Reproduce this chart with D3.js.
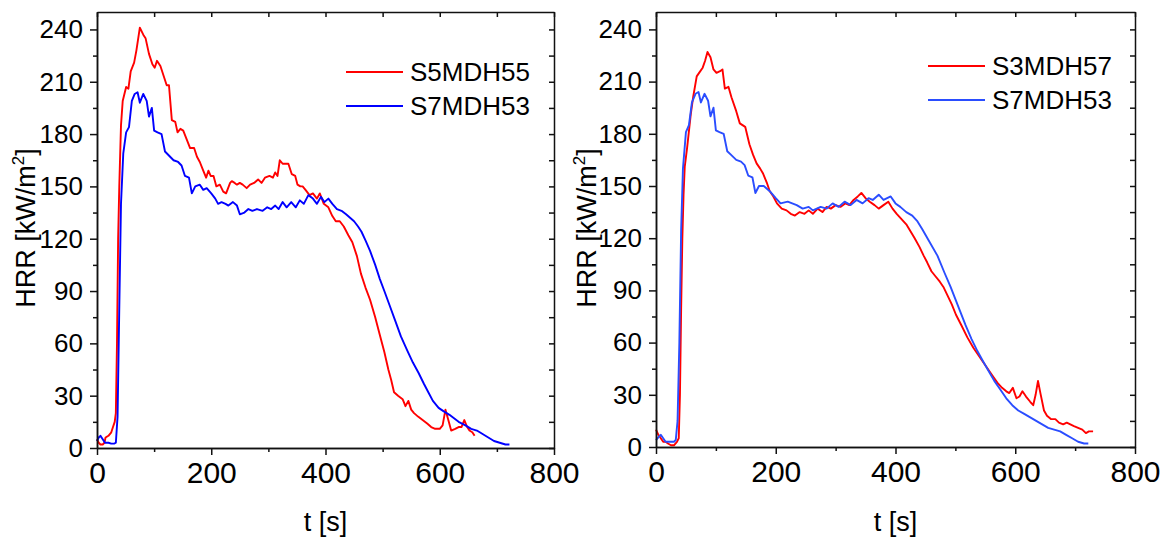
<!DOCTYPE html>
<html>
<head>
<meta charset="utf-8">
<script src="https://cdn.jsdelivr.net/npm/d3@7"></script>
<style>
  body { margin: 0; background: #fff; }
  svg { display: block; font-family: "Liberation Sans", Arial, sans-serif; }
</style>
</head>
<body>
<svg id="chart" width="1171" height="540"></svg>
<script>
// tick labels
const xTicks = [0, 200, 400, 600, 800];
const xMinor = [100, 300, 500, 700];
const yTicks = [0, 30, 60, 90, 120, 150, 180, 210, 240];
const yMinor = [15, 45, 75, 105, 135, 165, 195, 225];

// left panel, S5MDH55 (red)
const tS5 = [0, 3, 6, 10, 13, 15, 20, 25, 28, 31, 33, 35, 37, 39, 42, 45, 51, 55, 59, 65, 69, 75, 81, 85, 91, 97, 101, 105, 111, 117, 122, 126, 131, 137, 141, 146, 151, 157, 163, 170, 175, 180, 186, 191, 195, 199, 204, 209, 215, 221, 226, 233, 236, 241, 245, 250, 255, 262, 268, 275, 282, 288, 294, 302, 308, 312, 316, 320, 325, 331, 335, 341, 347, 351, 356, 360, 365, 372, 378, 385, 390, 397, 405, 412, 418, 425, 432, 440, 447, 455, 462, 470, 478, 487, 495, 503, 510, 515, 520, 527, 535, 540, 545, 550, 555, 562, 570, 578, 585, 592, 600, 605, 610, 615, 620, 627, 633, 638, 643, 648, 652, 657, 661];
const vS5 = [5, 3, 2, 2, 3, 6, 7, 9, 12, 15, 20, 60, 120, 150, 185, 199, 207, 206, 216, 221, 228, 241, 237, 235, 226, 220, 218, 222, 219, 213, 208, 208, 188, 187, 181, 183, 182, 177, 172, 172, 167, 164, 159, 155, 159, 156, 156, 150, 151, 147, 146, 152, 153, 152, 151, 152, 151, 149, 151, 152, 154, 152, 155, 156, 155, 158, 156, 165, 163, 163, 163, 157, 156, 151, 150, 150, 148, 145, 146, 143, 146, 140, 138, 133, 130, 130, 127, 122, 118, 110, 100, 92, 85, 75, 65, 55, 45, 39, 32, 30, 28, 24, 27, 22, 20, 18, 16, 14, 12, 11, 11, 13, 22, 16, 10, 11, 12, 12, 16, 12, 10, 9, 7];

// left panel, S7MDH53 (blue)
const tS7a = [0, 3, 6, 10, 14, 20, 25, 30, 33, 36, 39, 42, 46, 51, 56, 61, 66, 71, 75, 81, 87, 91, 96, 100, 106, 113, 119, 125, 134, 142, 148, 154, 161, 166, 172, 180, 186, 192, 200, 207, 212, 218, 225, 230, 238, 245, 250, 258, 265, 272, 280, 290, 298, 305, 312, 318, 325, 332, 340, 348, 355, 362, 370, 378, 385, 392, 398, 405, 412, 420, 428, 436, 443, 450, 457, 463, 470, 478, 487, 495, 503, 512, 522, 532, 543, 553, 563, 572, 580, 588, 598, 607, 617, 625, 633, 645, 655, 665, 675, 685, 695, 705, 715, 722];
const vS7a = [4, 6, 7, 5, 3, 3, 2.5, 2.5, 3, 18, 80, 140, 169, 181, 184, 199, 203, 204, 198, 203, 199, 190, 195, 182, 181, 180, 170, 168, 165, 164, 162, 156, 155, 146, 150, 151, 148, 149, 146, 143, 140, 141, 140, 139, 141, 139, 134, 135, 137, 136, 137, 136, 138, 137, 139, 137, 141, 138, 141, 138, 142, 140, 145, 143, 140, 144, 141, 143, 140, 137, 136, 134, 132, 130, 127, 124, 119, 113, 105, 97, 90, 82, 73, 64, 56, 49, 43, 37, 32, 27, 23, 21, 19, 17, 15, 13, 11, 10, 8, 6, 4, 3, 2, 2];

// right panel, S3MDH57 (red)
const tS3 = [0, 4, 8, 12, 16, 20, 25, 30, 35, 38, 40, 42, 44, 46, 48, 52, 58, 62, 68, 72, 78, 82, 86, 91, 96, 101, 107, 111, 115, 121, 126, 134, 140, 149, 156, 162, 168, 174, 179, 185, 190, 196, 202, 210, 218, 225, 232, 240, 248, 255, 262, 270, 278, 285, 292, 300, 308, 316, 323, 330, 337, 343, 350, 357, 365, 372, 380, 388, 395, 402, 410, 418, 425, 432, 440, 447, 453, 460, 467, 474, 480, 487, 494, 501, 510, 520, 530, 540, 550, 560, 570, 578, 585, 590, 596, 602, 607, 612, 618, 625, 630, 634, 638, 642, 648, 653, 660, 667, 673, 680, 686, 692, 698, 705, 712, 718, 723, 730];
const vS3 = [10, 7, 5, 3, 3, 2, 1, 1, 3, 5, 30, 80, 120, 145, 161, 172, 191, 201, 213, 215, 218, 222, 227, 224, 217, 215, 216, 217, 206, 207, 201, 193, 186, 184, 174, 168, 163, 160, 157, 152, 147, 144, 140, 137, 136, 134, 133, 135, 134, 136, 134, 137, 135, 138, 137, 139, 138, 140, 139, 142, 144, 146, 143, 141, 139, 137, 139, 141, 137, 134, 131, 128, 124, 120, 115, 110, 106, 101, 98, 95, 92, 87, 82, 76, 70, 63, 57, 52, 47, 42, 37, 34, 32, 31, 34, 28, 29, 32, 29, 26, 24, 30, 38, 31, 21, 18, 16, 16, 14, 13, 14, 13, 12, 11, 10, 8, 9, 9];

// right panel, S7MDH53 (blue)
const tS7b = [0, 5, 8, 12, 16, 20, 25, 30, 33, 36, 39, 42, 45, 50, 55, 60, 66, 71, 75, 81, 87, 91, 96, 100, 106, 113, 119, 125, 134, 142, 148, 154, 161, 166, 172, 180, 190, 200, 208, 220, 235, 245, 255, 262, 275, 285, 295, 305, 315, 325, 335, 345, 355, 362, 372, 380, 392, 400, 408, 418, 428, 436, 445, 455, 470, 482, 492, 500, 508, 517, 527, 537, 545, 555, 565, 575, 585, 595, 605, 615, 625, 635, 645, 655, 665, 675, 685, 695, 705, 715, 722];
const vS7b = [4, 6, 7, 5, 3, 3, 3, 3, 4, 15, 60, 125, 160, 181, 185, 198, 203, 204, 198, 203, 199, 190, 195, 182, 181, 180, 170, 168, 165, 164, 162, 156, 155, 146, 150, 150, 147, 143, 140, 141, 139, 137, 138, 136, 138, 137, 140, 138, 141, 139, 142, 140, 143, 142, 145, 142, 144, 140, 138, 135, 133, 130, 125, 119, 110, 100, 92, 85, 78, 70, 62, 55, 50, 44, 38, 33, 28, 24, 21, 19, 17, 15, 13, 11, 10, 9, 7, 5, 3, 2, 2];

const panels = [
  { x0: 97, x1: 554, y0: 448, y1: 12, yLab: 35,
    series: [
      { name: "S5MDH55", t: tS5, v: vS5, color: "#ff0000" },
      { name: "S7MDH53", t: tS7a, v: vS7a, color: "#0000ff" }
    ],
    legX: 346, legY: 72 },
  { x0: 656, x1: 1135, y0: 447, y1: 12, yLab: 596,
    series: [
      { name: "S3MDH57", t: tS3, v: vS3, color: "#ff0000" },
      { name: "S7MDH53", t: tS7b, v: vS7b, color: "#2a4dff" }
    ],
    legX: 928, legY: 66 }
];

const svg = d3.select("#chart");

panels.forEach(p => {
  const x = d3.scaleLinear().domain([0, 800]).range([p.x0, p.x1]);
  const y = d3.scaleLinear().domain([0, 250]).range([p.y0, p.y1]);
  const g = svg.append("g");

  // lines
  const line = d3.line().x(d => x(d[0])).y(d => y(d[1]));
  p.series.forEach(s => {
    g.append("path")
      .datum(s.t.map((t, i) => [t, s.v[i]]))
      .attr("fill", "none")
      .attr("stroke", s.color)
      .attr("stroke-width", 1.9)
      .attr("stroke-linejoin", "round")
      .attr("d", line);
  });

  // axes
  const styleAxis = sel => {
    sel.selectAll("path, line").attr("stroke", "#111").attr("stroke-width", 1.5);
    sel.selectAll("text").attr("fill", "#000").attr("font-family", "Liberation Sans, Arial, sans-serif");
  };

  g.append("g").attr("transform", `translate(0,${p.y0})`)
    .call(d3.axisBottom(x).tickValues(xMinor).tickSize(4).tickSizeOuter(0).tickFormat(""))
    .call(styleAxis);
  g.append("g").attr("transform", `translate(0,${p.y0})`)
    .call(d3.axisBottom(x).tickValues(xTicks).tickSize(7).tickPadding(7).tickSizeOuter(0))
    .call(styleAxis)
    .selectAll("text").attr("font-size", 30);

  g.append("g").attr("transform", `translate(${p.x0},0)`)
    .call(d3.axisLeft(y).tickValues(yMinor).tickSize(4).tickSizeOuter(0).tickFormat(""))
    .call(styleAxis);
  g.append("g").attr("transform", `translate(${p.x0},0)`)
    .call(d3.axisLeft(y).tickValues(yTicks).tickSize(7).tickPadding(7).tickSizeOuter(0))
    .call(styleAxis)
    .selectAll("text").attr("font-size", 26);

  g.append("g").attr("transform", `translate(0,${p.y1})`)
    .call(d3.axisTop(x).tickValues(xTicks.concat(xMinor)).tickSize(-5).tickSizeOuter(0).tickFormat(""))
    .call(styleAxis);
  g.append("g").attr("transform", `translate(${p.x1},0)`)
    .call(d3.axisRight(y).tickValues(yTicks.concat(yMinor)).tickSize(-5).tickSizeOuter(0).tickFormat(""))
    .call(styleAxis);

  // axis titles
  g.append("text")
    .attr("x", (p.x0 + p.x1) / 2).attr("y", 531)
    .attr("text-anchor", "middle").attr("font-size", 27)
    .text("t [s]");

  const yt = g.append("text")
    .attr("transform", `translate(${p.yLab},228) rotate(-90)`)
    .attr("text-anchor", "middle").attr("font-size", 27);
  yt.append("tspan").text("HRR [kW/m");
  yt.append("tspan").attr("font-size", 17).attr("dy", -11).text("2");
  yt.append("tspan").attr("dy", 11).text("]");

  // legend
  p.series.forEach((s, i) => {
    const ly = p.legY + i * 34;
    g.append("line")
      .attr("x1", p.legX).attr("x2", p.legX + 57)
      .attr("y1", ly).attr("y2", ly)
      .attr("stroke", s.color).attr("stroke-width", 1.8);
    g.append("text")
      .attr("x", p.legX + 64).attr("y", ly + 9)
      .attr("font-size", 26)
      .text(s.name);
  });
});
</script>
</body>
</html>
